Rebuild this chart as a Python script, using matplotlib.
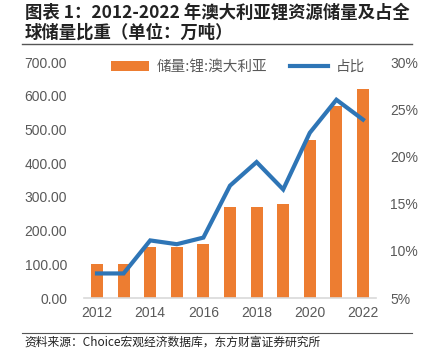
import matplotlib
matplotlib.use("Agg")
import matplotlib.pyplot as plt
from matplotlib.ticker import FuncFormatter

plt.rcParams['font.family'] = ['Liberation Sans', 'Noto Sans CJK SC', 'DejaVu Sans']

years = [2012, 2013, 2014, 2015, 2016, 2017, 2018, 2019, 2020, 2021, 2022]
reserves = [100, 100, 150, 150, 160, 270, 270, 280, 470, 570, 620]
share = [7.6, 7.6, 11.1, 10.7, 11.4, 16.9, 19.4, 16.5, 22.5, 26.0, 23.9]
xtick_labels = ['2012', '2014', '2016', '2018', '2020', '2022']
bar_label = '储量:锂:澳大利亚'
line_label = '占比'
title_l1 = '图表 1：2012-2022 年澳大利亚锂资源储量及占全'
title_l2 = '球储量比重（单位：万吨）'
source = '资料来源：Choice宏观经济数据库，东方财富证券研究所'

W, H = 428, 351
fig = plt.figure(figsize=(W / 100, H / 100), dpi=100)

ax = fig.add_axes([83.7 / W, 1 - 298 / H, (376.3 - 83.7) / W, (298 - 62) / H])
ax2 = ax.twinx()

orange = '#ED7D31'
blue = '#2E75B6'
gray = '#595959'

b = ax.bar(years, reserves, width=0.45, color=orange, label=bar_label, zorder=2)
l, = ax2.plot(years, share, color=blue, lw=3, label=line_label, zorder=3,
              solid_joinstyle='miter')

ax.set_xlim(years[0] - 0.5, years[-1] + 0.5)
ax.set_ylim(0, 700)
ax.set_yticks(range(0, 701, 100))
ax.yaxis.set_major_formatter(FuncFormatter(lambda v, p: f'{v:.2f}'))
ax2.set_ylim(5, 30)
ax2.set_yticks(range(5, 31, 5))
ax2.yaxis.set_major_formatter(FuncFormatter(lambda v, p: f'{int(v)}%'))
ax.set_xticks([int(t) for t in xtick_labels])
ax.set_xticklabels(xtick_labels)

for a in (ax, ax2):
    for s in a.spines.values():
        s.set_visible(False)
    a.tick_params(length=0, colors=gray, labelsize=10)
ax.spines['bottom'].set_visible(True)
ax.spines['bottom'].set_color('#D9D9D9')
ax.spines['bottom'].set_linewidth(1.2)
ax.tick_params(axis='y', pad=12)
ax2.tick_params(axis='y', pad=10)
ax.tick_params(axis='x', pad=6)
ax2.set_zorder(ax.get_zorder() + 1)
ax2.patch.set_visible(False)

leg = fig.legend([b, l], [bar_label, line_label], loc='center left',
                 bbox_to_anchor=(98 / W, 1 - 67 / H), ncol=2, frameon=False,
                 handlelength=2.6, columnspacing=1.6,
                 handletextpad=0.5, prop={'family': ['Noto Sans CJK SC'], 'size': 10.5})
for t in leg.get_texts():
    t.set_color(gray)

fig.text(25 / W, 1 - 13 / H, title_l1, fontsize=12.5, fontweight='bold',
         family=['Noto Sans CJK SC'], va='center', ha='left', color='#222222')
fig.text(25 / W, 1 - 33 / H, title_l2, fontsize=12.5, fontweight='bold',
         family=['Noto Sans CJK SC'], va='center', ha='left', color='#222222')
fig.add_artist(plt.Line2D([22 / W, 412 / W], [1 - 44 / H, 1 - 44 / H],
                          color='#555555', lw=1))
fig.add_artist(plt.Line2D([22 / W, 412 / W], [1 - 333 / H, 1 - 333 / H],
                          color='#555555', lw=0.8))
fig.text(24 / W, 1 - 342 / H, source, fontsize=8.5, family=['Noto Sans CJK SC'],
         va='center', ha='left', color='#222222')

fig.savefig('out.png', dpi=100)
